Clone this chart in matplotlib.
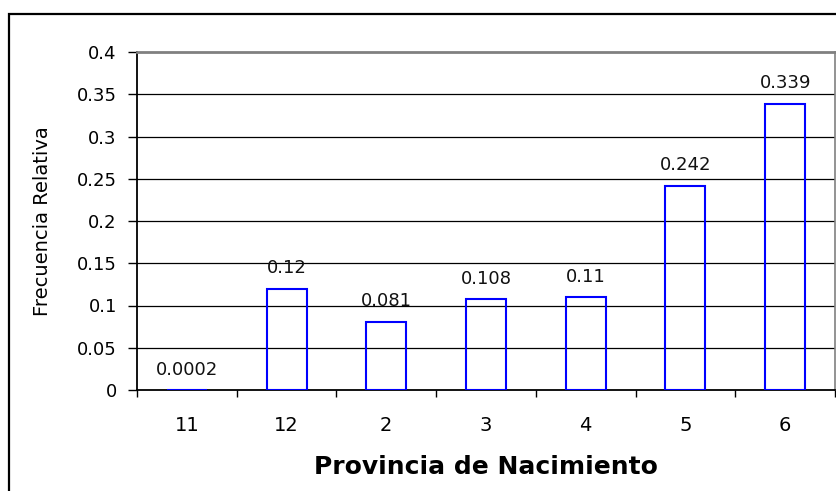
import matplotlib
matplotlib.use("Agg")
import matplotlib.pyplot as plt
from matplotlib.patches import Rectangle
from matplotlib.ticker import FixedLocator, NullFormatter

# data
provincias = ["11", "12", "2", "3", "4", "5", "6"]
frecuencias = [0.0002, 0.12, 0.081, 0.108, 0.11, 0.242, 0.339]
etiquetas = ["0.0002", "0.12", "0.081", "0.108", "0.11", "0.242", "0.339"]
yticks = [0, 0.05, 0.1, 0.15, 0.2, 0.25, 0.3, 0.35, 0.4]
ytick_labels = ["0", "0.05", "0.1", "0.15", "0.2", "0.25", "0.3", "0.35", "0.4"]

W, H = 836, 491
fig = plt.figure(figsize=(W / 100, H / 100), dpi=100)
plt.rcParams["font.family"] = "DejaVu Sans"

# outer chart frame (right and bottom run off the image)
fig.patches.append(Rectangle((9 / W, -0.1), 1.2, 1.1 - 14 / H, transform=fig.transFigure,
                             fill=False, edgecolor="black", linewidth=1.6, zorder=0))

ax = fig.add_axes([137 / W, 1 - 390 / H, (835 - 137) / W, (390 - 52) / H])

x = list(range(len(provincias)))
ax.bar(x, frecuencias, width=0.4, fill=False, edgecolor="#0000ff", linewidth=1.5, zorder=3)

for xi, v, lab in zip(x, frecuencias, etiquetas):
    ax.annotate(lab, (xi, v), xytext=(0, 8), textcoords="offset points",
                ha="center", va="bottom", fontsize=13, color="#111111")

ax.set_xlim(-0.5, len(provincias) - 0.5)
ax.set_ylim(0, 0.4)

# gridlines
for y in yticks[1:-1]:
    ax.axhline(y, color="black", linewidth=0.9, zorder=1)

ax.set_yticks(yticks)
ax.set_yticklabels(ytick_labels, fontsize=13)
ax.tick_params(axis="y", direction="out", length=6.5, width=1, pad=8, color="black")

ax.set_xticks(x)
ax.set_xticklabels(provincias, fontsize=14)
ax.tick_params(axis="x", which="major", length=0, pad=19)
ax.xaxis.set_minor_locator(FixedLocator([i - 0.5 for i in range(len(provincias) + 1)]))
ax.xaxis.set_minor_formatter(NullFormatter())
ax.tick_params(axis="x", which="minor", direction="out", length=5, width=1, color="black")

for side in ["left", "bottom"]:
    ax.spines[side].set_color("black")
    ax.spines[side].set_linewidth(1.3)
ax.spines["top"].set_color("#808080")
ax.spines["top"].set_linewidth(2)
ax.spines["right"].set_color("#808080")
ax.spines["right"].set_linewidth(1.2)

ax.set_ylabel("Frecuencia Relativa", fontsize=14)
ax.yaxis.set_label_coords((52 - 137) / (835 - 137), 0.5)
ax.set_xlabel("Provincia de Nacimiento", fontsize=18, fontweight="bold")
ax.xaxis.set_label_coords(0.5, -(455 - 390) / (390 - 52))

fig.savefig("out.png", dpi=100)
